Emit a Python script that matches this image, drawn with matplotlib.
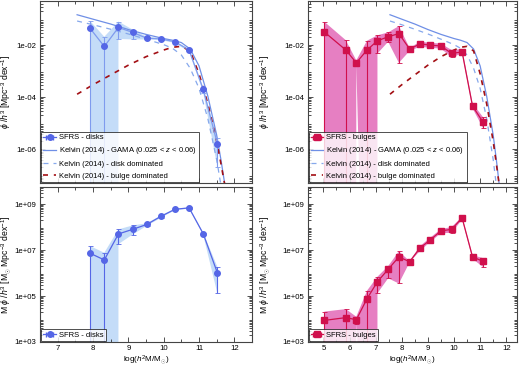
import numpy as np
import matplotlib
matplotlib.use("Agg")
import matplotlib.pyplot as plt
from matplotlib import ticker

plt.rcParams['font.family'] = ['Liberation Sans', 'DejaVu Sans']
plt.rcParams['mathtext.fontset'] = 'custom'
plt.rcParams['mathtext.rm'] = 'Liberation Sans'
plt.rcParams['mathtext.it'] = 'Liberation Sans:italic'
plt.rcParams['mathtext.bf'] = 'Liberation Sans:bold'

# ---------------- data ----------------
# disks (0 = lower bound undefined on a log axis)
x_d = [7.92, 8.32, 8.72, 9.12, 9.52, 9.92, 10.32, 10.72, 11.12, 11.52]
phi_d = [0.044, 0.0089, 0.048, 0.031, 0.0186, 0.0174, 0.0135, 0.0065, 2.0e-4, 1.6e-6]
phi_d_hi = [0.085, 0.021, 0.081, 0.040, 0.021, 0.019, 0.0145, 0.0071, 2.3e-4, 2.8e-6]
phi_d_lo = [0.0, 0.0, 0.0174, 0.0166, 0.0166, 0.0158, 0.0120, 0.0056, 1.5e-4, 2.1e-7]
mphi_d = [7.2e6, 3.7e6, 5.0e7, 7.9e7, 1.29e8, 2.9e8, 5.9e8, 6.8e8, 5.1e7, 1.02e6]
mphi_d_hi = [1.48e7, 7.6e6, 7.9e7, 1.17e8, 1.45e8, 3.16e8, 6.3e8, 7.1e8, 5.6e7, 1.86e6]
mphi_d_lo = [0.0, 0.0, 1.8e7, 4.7e7, 1.12e8, 2.5e8, 5.4e8, 6.3e8, 4.5e7, 1.3e5]

# bulges
x_b = [5.04, 5.86, 6.26, 6.67, 7.07, 7.48, 7.89, 8.30, 8.70, 9.10, 9.50, 9.91, 10.31, 10.71, 11.12]
phi_b = [0.032, 0.0065, 0.0021, 0.0065, 0.0148, 0.021, 0.028, 0.0071, 0.0112, 0.0100,
         0.0093, 0.0048, 0.0055, 4.5e-5, 1.07e-5]
phi_b_hi = [0.079, 0.0155, 0.0026, 0.0148, 0.024, 0.031, 0.054, 0.0079, 0.0135, 0.0123,
            0.0115, 0.0065, 0.0071, 5.8e-5, 1.66e-5]
phi_b_lo = [0.0, 0.0, 0.0017, 0.0, 0.0048, 0.0135, 0.0021, 0.0060, 0.0087, 0.0079,
            0.0074, 0.0034, 0.0048, 3.7e-5, 6.3e-6]
mphi_b = [8.7e3, 1.15e4, 9.3e3, 7.6e4, 4.2e5, 1.45e6, 5.0e6, 3.1e6, 1.23e7, 2.8e7,
          6.8e7, 7.9e7, 2.5e8, 5.0e6, 3.2e6]
mphi_b_hi = [2.1e4, 2.7e4, 1.26e4, 1.7e5, 6.9e5, 2.0e6, 8.7e6, 3.3e6, 1.48e7, 3.5e7,
             8.1e7, 1.0e8, 2.8e8, 6.0e6, 4.4e6]
mphi_b_lo = [0.0, 0.0, 6.3e3, 0.0, 1.32e5, 5.9e5, 3.5e5, 2.9e6, 9.3e6, 2.3e7,
             5.4e7, 5.6e7, 2.1e8, 4.1e6, 1.8e6]

# Kelvin (2014) curves
k_x = [7.55, 8.0, 8.5, 9.0, 9.5, 10.0, 10.25, 10.5, 10.75, 11.0, 11.25, 11.5, 11.62, 11.75]
k_gama = [0.148, 0.100, 0.065, 0.040, 0.026, 0.018, 0.0155, 0.0126, 0.0071, 0.0016,
          1.1e-4, 3.5e-6, 4.0e-7, 3.0e-8]
kd_x = [7.55, 8.0, 8.5, 9.0, 9.5, 10.0, 10.25, 10.5, 10.75, 11.0, 11.25, 11.5, 11.6, 11.66]
k_disk = [0.085, 0.061, 0.041, 0.027, 0.017, 0.0105, 0.0076, 0.0042, 0.0013, 2.2e-4,
          1.5e-5, 4.0e-7, 6.0e-8, 2.0e-8]
kb_x = [7.55, 8.0, 8.5, 9.0, 9.5, 10.0, 10.25, 10.5, 10.75, 11.0, 11.25, 11.5, 11.62, 11.75]
k_bulge = [1.3e-4, 3.0e-4, 7.2e-4, 1.7e-3, 3.6e-3, 6.5e-3, 8.3e-3, 9.0e-3, 6.0e-3, 8.0e-4,
           5.6e-5, 2.0e-6, 2.8e-7, 3.0e-8]

top_yticks = [1e-6, 1e-4, 1e-2]
bot_yticks = [1e3, 1e5, 1e7, 1e9]
left_xticks = [7, 8, 9, 10, 11, 12]
right_xticks = [5, 6, 7, 8, 9, 10, 11, 12]

# ---------------- style ----------------
C_D = '#5566e6'
C_D_LINE = '#7f9bee'
C_D_BAND = '#c4dcf8'
C_B = '#d0104c'
C_B_BAND = '#e67fc2'
C_GAMA = '#6f8fe6'
C_DISK = '#86a8ec'
C_BULGE = '#a30f14'
FS = 5.6
LFS = 5.5
YFS = 6.2

fig = plt.figure(figsize=(5.2, 3.66), dpi=100)
W, H = 520, 366
def axpos(x0, y0, x1, y1):
    return [x0 / W, 1 - y1 / H, (x1 - x0) / W, (y1 - y0) / H]

ax_tl = fig.add_axes(axpos(40, 1, 252, 183))
ax_bl = fig.add_axes(axpos(40, 187, 252, 342))
ax_tr = fig.add_axes(axpos(307.7, 1, 516.7, 183))
ax_br = fig.add_axes(axpos(307.7, 187, 516.7, 342))

def fmt(v, pos):
    e = int(round(np.log10(v)))
    return "1e%+03d" % e

def style(ax, xlim, ylim, xticks, yticks, xlabel=False):
    ax.set_yscale('log')
    ax.set_xlim(*xlim)
    ax.set_ylim(*ylim)
    ax.xaxis.set_major_locator(ticker.FixedLocator(xticks))
    ax.xaxis.set_minor_locator(ticker.MultipleLocator(0.5))
    ax.yaxis.set_major_locator(ticker.FixedLocator(yticks))
    ax.yaxis.set_major_formatter(ticker.FuncFormatter(fmt))
    ax.yaxis.set_minor_locator(ticker.LogLocator(base=10, subs=np.arange(2, 10), numticks=100))
    ax.yaxis.set_minor_formatter(ticker.NullFormatter())
    ax.tick_params(which='both', direction='in', top=True, right=True, labelsize=FS,
                   color='#333333', width=0.6, pad=2.5)
    ax.tick_params(which='major', length=3.5)
    ax.tick_params(which='minor', length=2)
    for s in ax.spines.values():
        s.set_linewidth(0.8)
        s.set_color('#444444')
    if xlabel:
        ax.set_xlabel(r'log($h^2$M/M$_{\odot}$)', fontsize=5.9, labelpad=1)
    else:
        ax.tick_params(axis='x', labelbottom=False)

def band(ax, x, lo, hi, color):
    """Shaded band; where the lower bound is undefined (<=0) it drops to the axis floor."""
    floor = ax.get_ylim()[0] * 1e-3
    lx, ly = [], []
    n = len(x)
    for i in range(n):
        if lo[i] > 0:
            lx.append(x[i]); ly.append(lo[i])
        else:
            if i > 0 and lo[i - 1] > 0:
                lx.append(0.5 * (x[i - 1] + x[i])); ly.append(floor)
            lx.append(x[i]); ly.append(floor)
            if i < n - 1 and lo[i + 1] > 0:
                lx.append(x[i + 1]); ly.append(floor)
    px = list(x) + lx[::-1]
    py = list(hi) + ly[::-1]
    ax.fill(px, py, color=color, linewidth=0, zorder=1)

def sfrs(ax, x, y, lo, hi, color, line_color, band_color, marker, ms, label):
    band(ax, x, lo, hi, band_color)
    y = np.array(y); lo = np.array(lo); hi = np.array(hi)
    ax.plot(x, y, color=line_color, lw=0.9, zorder=3)
    ax.errorbar(x, y, yerr=[y - lo, hi - y], fmt='none', ecolor=line_color, elinewidth=0.8,
                capsize=1.8, capthick=0.6, zorder=3)
    ax.plot(x, y, linestyle='none', marker=marker, ms=ms, color=color, zorder=4)
    h = ax.errorbar([np.nan], [np.nan], xerr=[1], fmt=marker + '-', color=color, ms=ms,
                    elinewidth=0.8, capsize=1.8, lw=0.9, label=label)
    return h

def kelvin(ax):
    h1, = ax.plot(k_x, k_gama, color=C_GAMA, lw=0.9, zorder=2,
                  label=r'Kelvin (2014) - GAMA (0.025 < $z$ < 0.06)')
    h2, = ax.plot(kd_x, k_disk, color=C_DISK, lw=0.9, dashes=(4, 4), zorder=2,
                  label='Kelvin (2014) - disk dominated')
    h3, = ax.plot(kb_x, k_bulge, color=C_BULGE, lw=1.2, dashes=(3, 3.5), zorder=2,
                  label='Kelvin (2014) - bulge dominated')
    return [h1, h2, h3]

def legend(ax, handles):
    lg = ax.legend(handles=handles, loc='lower left', fontsize=LFS, frameon=True, fancybox=False,
                   borderpad=0.3, labelspacing=0.55, handlelength=1.6, handletextpad=0.4,
                   borderaxespad=0.15, edgecolor='#222222')
    lg.get_frame().set_linewidth(0.7)

ylab_top = r'$\phi$ /$h^3$ [Mpc$^{-3}$ dex$^{-1}$]'
ylab_bot = r'M $\phi$ /$h^3$ [M$_{\odot}$ Mpc$^{-3}$ dex$^{-1}$]'

# top-left
style(ax_tl, (6.5, 12.5), (5e-8, 0.5), left_xticks, top_yticks)
hs = sfrs(ax_tl, x_d, phi_d, phi_d_lo, phi_d_hi, C_D, C_D_LINE, C_D_BAND, 'o', 4, 'SFRS - disks')
hk = kelvin(ax_tl)
legend(ax_tl, [hs] + hk)
ax_tl.set_ylabel(ylab_top, fontsize=YFS)
ax_tl.yaxis.set_label_coords(-0.125, 0.5)

# bottom-left
style(ax_bl, (6.5, 12.5), (1e3, 5.5e9), left_xticks, bot_yticks, xlabel=True)
hs = sfrs(ax_bl, x_d, mphi_d, mphi_d_lo, mphi_d_hi, C_D, C_D, C_D_BAND, 'o', 4, 'SFRS - disks')
legend(ax_bl, [hs])
ax_bl.set_ylabel(ylab_bot, fontsize=YFS)
ax_bl.yaxis.set_label_coords(-0.125, 0.5)

# top-right
style(ax_tr, (4.4, 12.4), (5e-8, 0.5), right_xticks, top_yticks)
hs = sfrs(ax_tr, x_b, phi_b, phi_b_lo, phi_b_hi, C_B, C_B, C_B_BAND, 's', 3.8, 'SFRS - bulges')
hk = kelvin(ax_tr)
legend(ax_tr, [hs] + hk)
ax_tr.set_ylabel(ylab_top, fontsize=YFS)
ax_tr.yaxis.set_label_coords(-0.17, 0.5)

# bottom-right
style(ax_br, (4.4, 12.4), (1e3, 5.5e9), right_xticks, bot_yticks, xlabel=True)
hs = sfrs(ax_br, x_b, mphi_b, mphi_b_lo, mphi_b_hi, C_B, C_B, C_B_BAND, 's', 3.8, 'SFRS - bulges')
legend(ax_br, [hs])
ax_br.set_ylabel(ylab_bot, fontsize=YFS)
ax_br.yaxis.set_label_coords(-0.17, 0.5)

fig.savefig('out.png', dpi=100)
